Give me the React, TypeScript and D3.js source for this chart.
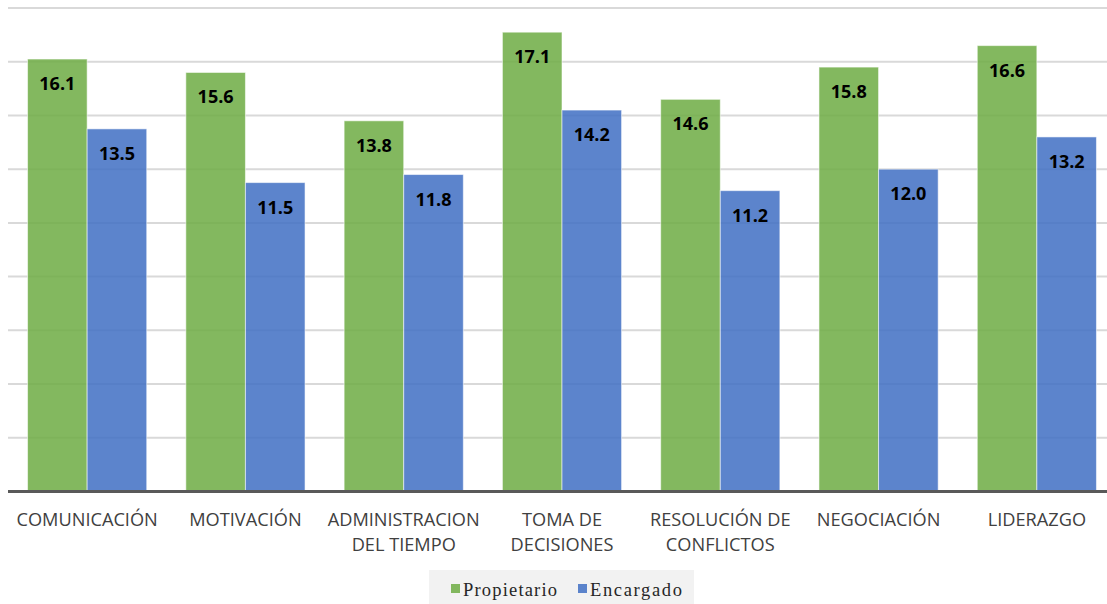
import React from "react";
import * as d3 from "d3";

const categories: string[][] = [
  ["COMUNICACIÓN"],
  ["MOTIVACIÓN"],
  ["ADMINISTRACION", "DEL TIEMPO"],
  ["TOMA DE", "DECISIONES"],
  ["RESOLUCIÓN DE", "CONFLICTOS"],
  ["NEGOCIACIÓN"],
  ["LIDERAZGO"],
];
const propietario = [16.1, 15.6, 13.8, 17.1, 14.6, 15.8, 16.6];
const encargado = [13.5, 11.5, 11.8, 14.2, 11.2, 12.0, 13.2];
const seriesNames = ["Propietario", "Encargado"];
const seriesColors = ["#70AD47", "#4472C4"];
const gridValues = d3.range(2, 19, 2);

const W = 1107;
const H = 604;
const plotLeft = 8;
const plotRight = 1116;
const baseY = 491.5;
const topY = 8;

export default function App() {
  const keys = categories.map((c) => c.join(" "));
  const x = d3.scaleBand<string>().domain(keys).range([plotLeft, plotRight]).paddingInner(0.247).paddingOuter(0.1235);
  const y = d3.scaleLinear().domain([0, 18]).range([baseY, topY]);
  const inner = d3.scaleBand<number>().domain([0, 1]).range([0, x.bandwidth()]);
  const series = [propietario, encargado];

  return (
    <svg width={W} height={H} style={{ position: "absolute", left: 0, top: 0, background: "#fff" }}>
      <rect width={W} height={H} fill="#fff" />
      {gridValues.map((g) => (
        <line key={g} x1={plotLeft} x2={plotRight} y1={y(g)} y2={y(g)} stroke="#d9d9d9" strokeWidth={2} />
      ))}
      {series.map((vals, si) =>
        vals.map((v, i) => {
          const bx = (x(keys[i]) ?? 0) + (inner(si) ?? 0);
          return (
            <rect
              key={`${si}-${i}`}
              x={bx}
              y={y(v)}
              width={inner.bandwidth()}
              height={baseY - y(v)}
              fill={seriesColors[si]}
              fillOpacity={0.87}
              stroke="#ffffff"
              strokeOpacity={0.55}
              strokeWidth={1}
            />
          );
        })
      )}
      <line x1={plotLeft} x2={plotRight} y1={baseY} y2={baseY} stroke="#595959" strokeWidth={3} />
      {series.map((vals, si) =>
        vals.map((v, i) => {
          const cx = (x(keys[i]) ?? 0) + (inner(si) ?? 0) + inner.bandwidth() / 2;
          return (
            <text
              key={`l-${si}-${i}`}
              x={cx}
              y={y(v) + 31}
              textAnchor="middle"
              fontFamily="'Open Sans', sans-serif"
              fontWeight={700}
              fontSize={18}
              fill="#000"
            >
              {v.toFixed(1)}
            </text>
          );
        })
      )}
      {categories.map((lines, i) => {
        const cx = (x(keys[i]) ?? 0) + x.bandwidth() / 2;
        return (
          <text
            key={`c-${i}`}
            x={cx}
            textAnchor="middle"
            fontFamily="'Open Sans', sans-serif"
            fontSize={18.2}
            fill="#404040"
          >
            {lines.map((ln, j) => (
              <tspan key={j} x={cx} y={526 + j * 25}>
                {ln}
              </tspan>
            ))}
          </text>
        );
      })}
      <g>
        <rect x={429} y={570} width={265} height={40} fill="#f2f2f2" />
        {seriesNames.map((name, si) => {
          const sx = si === 0 ? 451 : 578;
          return (
            <g key={name}>
              <rect x={sx} y={584} width={9} height={9} fill={seriesColors[si]} fillOpacity={0.87} />
              <text
                x={sx + 12}
                y={596}
                fontFamily="'Liberation Serif', 'Times New Roman', serif"
                fontSize={18.5}
                fill="#262626"
                textLength={si === 0 ? 94 : 92}
                lengthAdjust="spacing"
              >
                {name}
              </text>
            </g>
          );
        })}
      </g>
    </svg>
  );
}
